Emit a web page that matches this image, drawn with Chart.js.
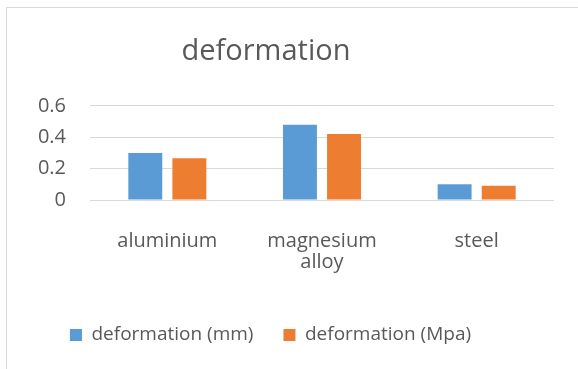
<!DOCTYPE html>
<html>
<head>
<meta charset="utf-8">
<script src="https://cdn.jsdelivr.net/npm/chart.js@4"></script>
<style>
  body { margin: 0; background: #fff; }
  #frame {
    position: absolute; left: 6px; top: 7px; right: -10px; bottom: -10px;
    border-left: 1px solid #d9d9d9; border-top: 1px solid #d9d9d9;
  }
  #wrap { position: absolute; left: 0; top: 0; width: 578px; height: 369px; }
</style>
</head>
<body>
<div id="frame"></div>
<div id="wrap"><canvas id="defChart"></canvas></div>
<script>
const categories = ['aluminium', ['magnesium', 'alloy'], 'steel'];
const deformationMm = [0.3, 0.48, 0.1];
const deformationMpa = [0.266, 0.42, 0.09];
const yTicks = [0, 0.2, 0.4, 0.6];

const textColor = '#595959';
const fontFamily = '"Open Sans", sans-serif';

// Excel centres the title and legend on the chart box, not the plot area
const recentre = {
    id: 'recentre',
    afterLayout(chart) {
        chart.titleBlock.left = 7;
        chart.titleBlock.right = 525;
        chart.legend.left = 7;
        chart.legend.right = 534;
    }
};

const ctx = document.getElementById('defChart').getContext('2d');

const myChart = new Chart(ctx, {
    type: 'bar',
    data: {
        labels: categories,
        datasets: [{
            label: 'deformation (mm)',
            data: deformationMm,
            backgroundColor: '#5b9bd5'
        }, {
            label: 'deformation (Mpa)',
            data: deformationMpa,
            backgroundColor: '#ed7d31'
        }]
    },
    options: {
        responsive: true,
        maintainAspectRatio: false,
        animation: false,
        categoryPercentage: 0.57,
        barPercentage: 0.77,
        layout: {
            padding: { left: 0, right: 24, top: 0, bottom: 14.5 }
        },
        plugins: {
            title: {
                display: true,
                text: 'deformation',
                color: textColor,
                font: { family: fontFamily, size: 29, weight: 'normal' },
                padding: { top: 34, bottom: 37 }
            },
            legend: {
                position: 'bottom',
                labels: {
                    color: textColor,
                    font: { family: fontFamily, size: 19 },
                    boxWidth: 12,
                    boxHeight: 12,
                    padding: 30
                }
            },
            tooltip: { enabled: false }
        },
        scales: {
            x: {
                grid: { display: false },
                border: { display: false },
                ticks: {
                    color: textColor,
                    font: { family: fontFamily, size: 20, lineHeight: 1.05 },
                    padding: 23,
                    maxRotation: 0
                },
                afterFit: (scale) => { scale.height = 95.5; }
            },
            y: {
                min: 0,
                max: 0.6,
                grid: { color: '#d9d9d9', lineWidth: 1, drawTicks: false },
                border: { display: false },
                afterBuildTicks: (scale) => { scale.ticks = yTicks.map(v => ({ value: v })); },
                ticks: {
                    color: textColor,
                    font: { family: fontFamily, size: 20 },
                    padding: 24
                },
                afterFit: (scale) => { scale.width = 90; }
            }
        }
    },
    plugins: [recentre]
});
</script>
</body>
</html>
